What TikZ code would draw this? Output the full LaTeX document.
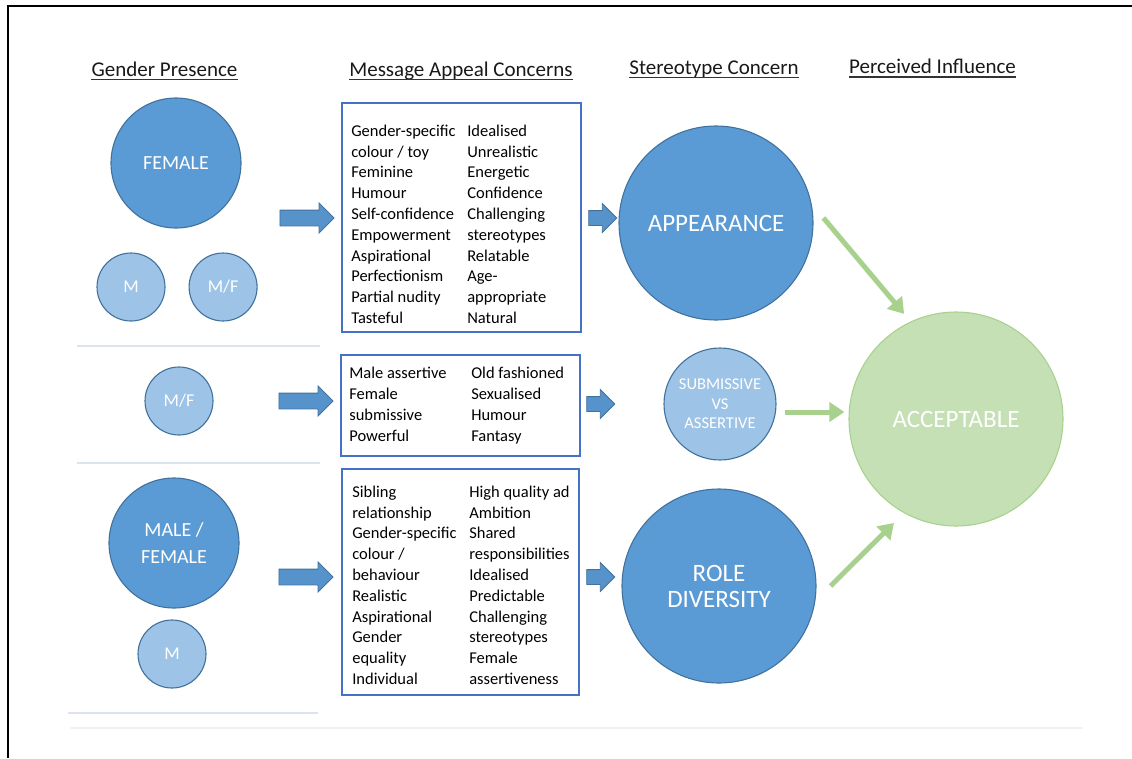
\documentclass[tikz,border=0pt]{standalone}
\usepackage{fontspec}
\setmainfont{Carlito}
\usetikzlibrary{arrows.meta,shapes.arrows,positioning}
\definecolor{darkblue}{HTML}{5B9BD5}
\definecolor{edgeblue}{HTML}{41719C}
\definecolor{lightblue}{HTML}{9DC3E6}
\definecolor{boxblue}{HTML}{4472C4}
\definecolor{palegreen}{HTML}{C5E0B4}
\definecolor{midgreen}{HTML}{A9D18E}
\definecolor{rulegrey}{HTML}{DCE3EC}

\begin{document}
\begin{tikzpicture}[x=1pt,y=-1pt,semithick]
	  \tikzstyle{header}=[inner sep=0pt,anchor=base,text=black!90,font=\fontsize{21}{25}\selectfont]
	  \tikzstyle{uline}=[line width=1.6pt,black!80]
	  \tikzstyle{bigdot}=[circle,fill=darkblue,draw=edgeblue,line width=1.1pt,text=white,align=center,inner sep=0pt]
	  \tikzstyle{smalldot}=[circle,fill=lightblue,draw=edgeblue,line width=1.1pt,text=white,align=center,inner sep=0pt,minimum size=68,font=\fontsize{18}{20}\selectfont]
	  \tikzstyle{msgbox}=[rectangle,draw=boxblue,line width=1.4pt,inner sep=0pt]
	  \tikzstyle{msgtext}=[anchor=base west,inner sep=0pt,align=left,text=black,font=\fontsize{16.5}{20.8}\selectfont]
	  \tikzstyle{fatarrow}=[single arrow,draw=edgeblue,fill=darkblue!95!black,line width=0.8pt,inner xsep=0pt,inner ysep=7.5pt,minimum height=54,single arrow head extend=7,single arrow head indent=0]
	  \tikzstyle{shortarrow}=[fatarrow,inner ysep=7pt,minimum height=28]
	  \tikzstyle{greenlink}=[draw=midgreen,line width=5pt,-{Triangle[width=19pt,length=15pt]}]
	  \tikzstyle{divider}=[draw=rulegrey,line width=1.5pt]

	  \useasboundingbox (0,0) rectangle (1132,758);
	  \draw[line width=2.8pt] (8,758) -- (8,6) -- (1132,6);

	  % column headers
	  \node[header] (hgender) at (164.5,76) {Gender Presence};
	  \node[header] (hmessage) at (461,76) {Message Appeal Concerns};
	  \node[header] (hstereo) at (714,74) {Stereotype Concern};
	  \node[header] (hinfluence) at (932.5,73.5) {Perceived Influence};
	  \foreach \h in {hgender,hmessage,hstereo,hinfluence}
	    \draw[uline] ([yshift=-3.5pt]\h.base west) -- ([yshift=-3.5pt]\h.base east);

	  % gender presence
	  \node[bigdot,minimum size=130,font=\fontsize{20}{24}\selectfont] (female) at (176,163) {FEMALE};
	  \node[smalldot] (m1) at (131,287) {M};
	  \node[smalldot] (mf1) [right=23pt of m1] {M/F};
	  \node[smalldot] (mf2) at (179,401) {M/F};
	  \node[bigdot,minimum size=130,font=\fontsize{20}{27}\selectfont] (malefemale) at (174,543) {MALE /\\FEMALE};
	  \node[smalldot] (m2) at (172,654) {M};

	  \draw[divider] (77,346) -- (320,346);
	  \draw[divider] (77,463) -- (320,463);
	  \draw[divider] (68,713) -- (318,713);
	  \draw[draw=black!5,line width=1.5pt] (70,728) -- (1083,728);

	  % message appeal boxes (base = last line)
	  \node[msgbox,minimum width=239,minimum height=229] (box1) at (461.5,217.5) {};
	  \node[msgtext] (box1l) at (351,323.5) {Gender-specific\\colour / toy\\Feminine\\Humour\\Self-confidence\\Empowerment\\Aspirational\\Perfectionism\\Partial nudity\\Tasteful};
	  \node[msgtext] (box1r) at (467,323.5) {Idealised\\Unrealistic\\Energetic\\Confidence\\Challenging\\stereotypes\\Relatable\\Age-\\appropriate\\Natural};

	  \node[msgbox,minimum width=239,minimum height=101] (box2) at (460.5,405.5) {};
	  \node[msgtext] (box2l) at (349,441) {Male assertive\\Female\\submissive\\Powerful};
	  \node[msgtext] (box2r) at (471,441) {Old fashioned\\Sexualised\\Humour\\Fantasy};

	  \node[msgbox,minimum width=237,minimum height=226] (box3) at (460.5,582) {};
	  \node[msgtext] (box3l) at (352,684.5) {Sibling\\relationship\\Gender-specific\\colour /\\behaviour\\Realistic\\Aspirational\\Gender\\equality\\Individual};
	  \node[msgtext] (box3r) at (469,684.5) {High quality ad\\Ambition\\Shared\\responsibilities\\Idealised\\Predictable\\Challenging\\stereotypes\\Female\\assertiveness};

	  \node[fatarrow] (arr1) at (303,218) {};
	  \node[fatarrow] (arr2) at (302,401) {};
	  \node[fatarrow] (arr3) at (302,577) {};
	  \node[shortarrow] (arr4) at (599,218) {};
	  \node[shortarrow] (arr5) at (597,404) {};
	  \node[shortarrow] (arr6) at (597,577) {};

	  % stereotype concern
	  \node[bigdot,minimum size=194,font=\fontsize{25}{28}\selectfont] (appear) at (716,223) {APPEARANCE};
	  \node[smalldot,minimum size=112,font=\fontsize{16.5}{19.5}\selectfont] (subass) at (720,404) {SUBMISSIVE\\VS\\ASSERTIVE};
	  \node[bigdot,minimum size=194,font=\fontsize{25}{26}\selectfont] (rolediv) at (719,586) {ROLE\\DIVERSITY};

	  % perceived influence
	  \node[circle,fill=palegreen,draw=midgreen,line width=1.1pt,text=white,inner sep=0pt,minimum size=214,font=\fontsize{25}{28}\selectfont] (accept) at (956,419) {ACCEPTABLE};

	  \draw[greenlink,shorten >=10pt] ([xshift=10pt]appear.3) -- (accept.115);
	  \draw[greenlink] ([xshift=8pt,yshift=-8pt]subass.east) -- ([xshift=-4pt,yshift=7pt]accept.west);
	  \draw[greenlink,shorten >=14pt] ([xshift=14pt]rolediv.east) -- (accept.241);
	\end{tikzpicture}
\end{document}
